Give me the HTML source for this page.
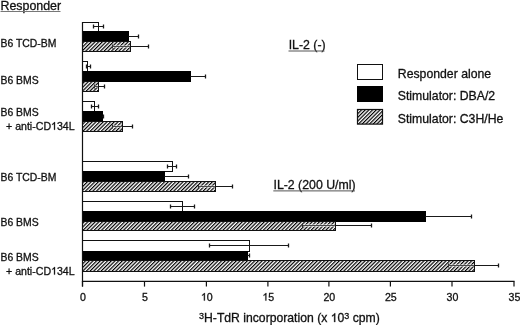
<!DOCTYPE html>
<html><head><meta charset="utf-8"><style>
html,body{margin:0;padding:0;background:#fff;width:520px;height:325px;overflow:hidden}
svg{display:block;will-change:transform}
text{font-family:"Liberation Sans",sans-serif;fill:#111;stroke:#111;stroke-width:0.3px}
.h{fill-opacity:0;stroke-opacity:0}
</style></head><body>
<svg width="520" height="325" viewBox="0 0 520 325">
<defs>
<pattern id="hatch" patternUnits="userSpaceOnUse" width="2.6" height="4" patternTransform="rotate(45)">
<rect width="2.6" height="4" fill="#fff"/>
<rect x="0" y="0" width="1.2" height="4" fill="#000"/>
</pattern>
</defs>
<rect x="82.5" y="22.50" width="16.00" height="9.00" fill="#fff" stroke="#111" stroke-width="1"/>
<rect x="82.5" y="31.50" width="46.00" height="10.00" fill="#000" stroke="#000" stroke-width="1"/>
<rect x="82.5" y="41.50" width="48.00" height="10.00" fill="url(#hatch)" stroke="#111" stroke-width="1"/>
<line x1="98.50" y1="26.50" x2="103.50" y2="26.50" stroke="#1a1a1a" stroke-width="1"/>
<line x1="103.50" y1="24.50" x2="103.50" y2="28.50" stroke="#1a1a1a" stroke-width="1.3"/>
<line x1="93.50" y1="26.50" x2="98.50" y2="26.50" stroke="#1a1a1a" stroke-width="1"/>
<line x1="93.50" y1="24.50" x2="93.50" y2="28.50" stroke="#1a1a1a" stroke-width="1.3"/>
<line x1="128.50" y1="36.50" x2="138.50" y2="36.50" stroke="#1a1a1a" stroke-width="1"/>
<line x1="138.50" y1="34.50" x2="138.50" y2="38.50" stroke="#1a1a1a" stroke-width="1.3"/>
<line x1="130.50" y1="46.50" x2="148.50" y2="46.50" stroke="#1a1a1a" stroke-width="1"/>
<line x1="148.50" y1="44.50" x2="148.50" y2="48.50" stroke="#1a1a1a" stroke-width="1.3"/>
<line x1="112.00" y1="46.50" x2="129.90" y2="46.50" stroke="#fff" stroke-width="1.8"/>
<line x1="112.50" y1="46.50" x2="129.90" y2="46.50" stroke="#333" stroke-width="0.9"/>
<line x1="112.50" y1="44.50" x2="112.50" y2="48.50" stroke="#333" stroke-width="1"/>
<rect x="82.5" y="61.50" width="5.00" height="10.00" fill="#fff" stroke="#111" stroke-width="1"/>
<rect x="82.5" y="71.50" width="108.00" height="10.00" fill="#000" stroke="#000" stroke-width="1"/>
<rect x="82.5" y="81.50" width="16.00" height="10.00" fill="url(#hatch)" stroke="#111" stroke-width="1"/>
<line x1="87.50" y1="66.50" x2="90.50" y2="66.50" stroke="#1a1a1a" stroke-width="1"/>
<line x1="90.50" y1="64.50" x2="90.50" y2="68.50" stroke="#1a1a1a" stroke-width="1.3"/>
<line x1="86.50" y1="66.50" x2="87.50" y2="66.50" stroke="#1a1a1a" stroke-width="1"/>
<line x1="86.50" y1="64.50" x2="86.50" y2="68.50" stroke="#1a1a1a" stroke-width="1.3"/>
<line x1="190.50" y1="76.50" x2="205.50" y2="76.50" stroke="#1a1a1a" stroke-width="1"/>
<line x1="205.50" y1="74.50" x2="205.50" y2="78.50" stroke="#1a1a1a" stroke-width="1.3"/>
<line x1="98.50" y1="86.50" x2="104.50" y2="86.50" stroke="#1a1a1a" stroke-width="1"/>
<line x1="104.50" y1="84.50" x2="104.50" y2="88.50" stroke="#1a1a1a" stroke-width="1.3"/>
<line x1="94.00" y1="86.50" x2="97.90" y2="86.50" stroke="#fff" stroke-width="1.8"/>
<line x1="94.50" y1="86.50" x2="97.90" y2="86.50" stroke="#333" stroke-width="0.9"/>
<line x1="94.50" y1="84.50" x2="94.50" y2="88.50" stroke="#333" stroke-width="1"/>
<rect x="82.5" y="101.50" width="12.00" height="10.00" fill="#fff" stroke="#111" stroke-width="1"/>
<rect x="82.5" y="111.50" width="20.00" height="10.00" fill="#000" stroke="#000" stroke-width="1"/>
<rect x="82.5" y="121.50" width="40.00" height="10.00" fill="url(#hatch)" stroke="#111" stroke-width="1"/>
<line x1="94.50" y1="106.50" x2="98.50" y2="106.50" stroke="#1a1a1a" stroke-width="1"/>
<line x1="98.50" y1="104.50" x2="98.50" y2="108.50" stroke="#1a1a1a" stroke-width="1.3"/>
<line x1="91.50" y1="106.50" x2="94.50" y2="106.50" stroke="#1a1a1a" stroke-width="1"/>
<line x1="91.50" y1="104.50" x2="91.50" y2="108.50" stroke="#1a1a1a" stroke-width="1.3"/>
<line x1="102.50" y1="116.50" x2="103.50" y2="116.50" stroke="#1a1a1a" stroke-width="1"/>
<line x1="103.50" y1="114.50" x2="103.50" y2="118.50" stroke="#1a1a1a" stroke-width="1.3"/>
<line x1="122.50" y1="126.50" x2="132.50" y2="126.50" stroke="#1a1a1a" stroke-width="1"/>
<line x1="132.50" y1="124.50" x2="132.50" y2="128.50" stroke="#1a1a1a" stroke-width="1.3"/>
<line x1="112.00" y1="126.50" x2="121.90" y2="126.50" stroke="#fff" stroke-width="1.8"/>
<line x1="112.50" y1="126.50" x2="121.90" y2="126.50" stroke="#333" stroke-width="0.9"/>
<line x1="112.50" y1="124.50" x2="112.50" y2="128.50" stroke="#333" stroke-width="1"/>
<rect x="82.5" y="161.50" width="90.00" height="10.00" fill="#fff" stroke="#111" stroke-width="1"/>
<rect x="82.5" y="171.50" width="82.00" height="10.00" fill="#000" stroke="#000" stroke-width="1"/>
<rect x="82.5" y="181.50" width="133.00" height="10.00" fill="url(#hatch)" stroke="#111" stroke-width="1"/>
<line x1="172.50" y1="166.50" x2="176.50" y2="166.50" stroke="#1a1a1a" stroke-width="1"/>
<line x1="176.50" y1="164.50" x2="176.50" y2="168.50" stroke="#1a1a1a" stroke-width="1.3"/>
<line x1="167.50" y1="166.50" x2="172.50" y2="166.50" stroke="#1a1a1a" stroke-width="1"/>
<line x1="167.50" y1="164.50" x2="167.50" y2="168.50" stroke="#1a1a1a" stroke-width="1.3"/>
<line x1="164.50" y1="176.50" x2="188.50" y2="176.50" stroke="#1a1a1a" stroke-width="1"/>
<line x1="188.50" y1="174.50" x2="188.50" y2="178.50" stroke="#1a1a1a" stroke-width="1.3"/>
<line x1="215.50" y1="186.50" x2="232.50" y2="186.50" stroke="#1a1a1a" stroke-width="1"/>
<line x1="232.50" y1="184.50" x2="232.50" y2="188.50" stroke="#1a1a1a" stroke-width="1.3"/>
<line x1="198.00" y1="186.50" x2="214.90" y2="186.50" stroke="#fff" stroke-width="1.8"/>
<line x1="198.50" y1="186.50" x2="214.90" y2="186.50" stroke="#333" stroke-width="0.9"/>
<line x1="198.50" y1="184.50" x2="198.50" y2="188.50" stroke="#333" stroke-width="1"/>
<rect x="82.5" y="201.50" width="100.00" height="10.00" fill="#fff" stroke="#111" stroke-width="1"/>
<rect x="82.5" y="211.50" width="343.00" height="10.00" fill="#000" stroke="#000" stroke-width="1"/>
<rect x="82.5" y="221.50" width="253.00" height="9.00" fill="url(#hatch)" stroke="#111" stroke-width="1"/>
<line x1="182.50" y1="206.50" x2="194.50" y2="206.50" stroke="#1a1a1a" stroke-width="1"/>
<line x1="194.50" y1="204.50" x2="194.50" y2="208.50" stroke="#1a1a1a" stroke-width="1.3"/>
<line x1="170.50" y1="206.50" x2="182.50" y2="206.50" stroke="#1a1a1a" stroke-width="1"/>
<line x1="170.50" y1="204.50" x2="170.50" y2="208.50" stroke="#1a1a1a" stroke-width="1.3"/>
<line x1="425.50" y1="216.50" x2="471.50" y2="216.50" stroke="#1a1a1a" stroke-width="1"/>
<line x1="471.50" y1="214.50" x2="471.50" y2="218.50" stroke="#1a1a1a" stroke-width="1.3"/>
<line x1="335.50" y1="225.50" x2="371.50" y2="225.50" stroke="#1a1a1a" stroke-width="1"/>
<line x1="371.50" y1="223.50" x2="371.50" y2="227.50" stroke="#1a1a1a" stroke-width="1.3"/>
<line x1="302.00" y1="225.50" x2="334.90" y2="225.50" stroke="#fff" stroke-width="1.8"/>
<line x1="302.50" y1="225.50" x2="334.90" y2="225.50" stroke="#333" stroke-width="0.9"/>
<line x1="302.50" y1="223.50" x2="302.50" y2="227.50" stroke="#333" stroke-width="1"/>
<rect x="82.5" y="240.50" width="167.00" height="11.00" fill="#fff" stroke="#111" stroke-width="1"/>
<rect x="82.5" y="251.50" width="165.00" height="9.00" fill="#000" stroke="#000" stroke-width="1"/>
<rect x="82.5" y="260.50" width="392.00" height="11.00" fill="url(#hatch)" stroke="#111" stroke-width="1"/>
<line x1="249.50" y1="245.50" x2="288.50" y2="245.50" stroke="#1a1a1a" stroke-width="1"/>
<line x1="288.50" y1="243.50" x2="288.50" y2="247.50" stroke="#1a1a1a" stroke-width="1.3"/>
<line x1="209.50" y1="245.50" x2="249.50" y2="245.50" stroke="#1a1a1a" stroke-width="1"/>
<line x1="209.50" y1="243.50" x2="209.50" y2="247.50" stroke="#1a1a1a" stroke-width="1.3"/>
<line x1="247.50" y1="255.50" x2="249.50" y2="255.50" stroke="#1a1a1a" stroke-width="1"/>
<line x1="249.50" y1="253.50" x2="249.50" y2="257.50" stroke="#1a1a1a" stroke-width="1.3"/>
<line x1="474.50" y1="265.50" x2="498.50" y2="265.50" stroke="#1a1a1a" stroke-width="1"/>
<line x1="498.50" y1="263.50" x2="498.50" y2="267.50" stroke="#1a1a1a" stroke-width="1.3"/>
<line x1="448.00" y1="265.50" x2="473.90" y2="265.50" stroke="#fff" stroke-width="1.8"/>
<line x1="448.50" y1="265.50" x2="473.90" y2="265.50" stroke="#333" stroke-width="0.9"/>
<line x1="448.50" y1="263.50" x2="448.50" y2="267.50" stroke="#333" stroke-width="1"/>
<line x1="82.5" y1="22" x2="82.5" y2="286.6" stroke="#111" stroke-width="1.2"/>
<line x1="81.9" y1="281.4" x2="514.6" y2="281.4" stroke="#111" stroke-width="1.2"/>
<line x1="82.50" y1="281.4" x2="82.50" y2="286.6" stroke="#111" stroke-width="1.2"/>
<line x1="144.50" y1="281.4" x2="144.50" y2="286.6" stroke="#111" stroke-width="1.2"/>
<line x1="206.40" y1="281.4" x2="206.40" y2="286.6" stroke="#111" stroke-width="1.2"/>
<line x1="267.90" y1="281.4" x2="267.90" y2="286.6" stroke="#111" stroke-width="1.2"/>
<line x1="328.90" y1="281.4" x2="328.90" y2="286.6" stroke="#111" stroke-width="1.2"/>
<line x1="390.40" y1="281.4" x2="390.40" y2="286.6" stroke="#111" stroke-width="1.2"/>
<line x1="452.00" y1="281.4" x2="452.00" y2="286.6" stroke="#111" stroke-width="1.2"/>
<line x1="514.00" y1="281.4" x2="514.00" y2="286.6" stroke="#111" stroke-width="1.2"/>
<text x="82.90" y="300.6" text-anchor="middle" font-size="10.6">0</text>
<text x="144.90" y="300.6" text-anchor="middle" font-size="10.6">5</text>
<text x="206.80" y="300.6" text-anchor="middle" font-size="10.6"><tspan class="h">1</tspan>0</text>
<text x="268.30" y="300.6" text-anchor="middle" font-size="10.6"><tspan class="h">1</tspan>5</text>
<text x="329.30" y="300.6" text-anchor="middle" font-size="10.6">20</text>
<text x="390.80" y="300.6" text-anchor="middle" font-size="10.6">25</text>
<text x="452.40" y="300.6" text-anchor="middle" font-size="10.6">30</text>
<text x="514.40" y="300.6" text-anchor="middle" font-size="10.6">35</text>

<text x="0.5" y="10" font-size="12.4">Responder</text>
<line x1="0.5" y1="11.5" x2="60.5" y2="11.5" stroke="#777" stroke-width="1"/>
<text x="0.5" y="46.6" font-size="10.4">B6 TCD-BM</text>
<text x="0.5" y="83.9" font-size="10.4">B6 BMS</text>
<text x="0.5" y="115.9" font-size="10.4">B6 BMS</text>
<text x="6" y="129.7" font-size="10.6">+ anti-CD<tspan class="h">1</tspan>34L</text>
<text x="0.5" y="180.7" font-size="10.4">B6 TCD-BM</text>
<text x="0.5" y="225.8" font-size="10.4">B6 BMS</text>
<text x="0.5" y="260.8" font-size="10.4">B6 BMS</text>
<text x="6" y="274.6" font-size="10.6">+ anti-CD<tspan class="h">1</tspan>34L</text>
<text x="288.7" y="48.9" font-size="12.3">IL-2 (-)</text>
<line x1="288.5" y1="51" x2="324.5" y2="51" stroke="#555" stroke-width="1"/>
<text x="273.5" y="188.9" font-size="12.3">IL-2 (200 U/ml)</text>
<line x1="273.3" y1="190.9" x2="355" y2="190.9" stroke="#555" stroke-width="1"/>
<text x="199" y="322" font-size="12.2"><tspan font-size="9" dy="-3">3</tspan><tspan dy="3">H-TdR incorporation (x <tspan class="h">1</tspan>0</tspan><tspan font-size="9" dy="-3">3</tspan><tspan dy="3"> cpm)</tspan></text>


<rect x="357.5" y="64.5" width="25" height="15" fill="#fff" stroke="#111" stroke-width="1"/>
<rect x="357.5" y="86.5" width="25" height="15" fill="#000" stroke="#000" stroke-width="1"/>
<rect x="357.5" y="109.5" width="25" height="14.6" fill="url(#hatch)" stroke="#111" stroke-width="1.2"/>
<text x="397.8" y="77.6" font-size="12.25">Responder alone</text>
<text x="397.8" y="100.3" font-size="12.25">Stimulator: DBA/2</text>
<text x="397.8" y="122.5" font-size="12.25">Stimulator: C3H/He</text>

<path d="M204.84,300.60 L203.91,300.60 L203.91,294.66 C203.69,294.88 203.39,295.09 203.03,295.31 C202.66,295.52 202.33,295.68 202.04,295.80 L202.04,294.91 C202.56,294.66 203.01,294.36 203.40,294.02 C203.79,293.67 204.06,293.33 204.22,293.01 L204.84,293.01 Z" fill="#111" stroke="#111" stroke-width="0.3"/>
<path d="M266.34,300.60 L265.41,300.60 L265.41,294.66 C265.19,294.88 264.89,295.09 264.53,295.31 C264.16,295.52 263.83,295.68 263.54,295.80 L263.54,294.91 C264.06,294.66 264.51,294.36 264.90,294.02 C265.29,293.67 265.56,293.33 265.72,293.01 L266.34,293.01 Z" fill="#111" stroke="#111" stroke-width="0.3"/>
<path d="M55.00,129.70 L54.06,129.70 L54.06,123.76 C53.84,123.98 53.55,124.19 53.18,124.41 C52.81,124.62 52.48,124.78 52.19,124.90 L52.19,124.01 C52.71,123.76 53.16,123.46 53.55,123.12 C53.94,122.77 54.21,122.43 54.37,122.11 L55.00,122.11 Z" fill="#111" stroke="#111" stroke-width="0.3"/>
<path d="M55.00,274.60 L54.06,274.60 L54.06,268.66 C53.84,268.88 53.55,269.09 53.18,269.31 C52.81,269.52 52.48,269.68 52.19,269.80 L52.19,268.91 C52.71,268.66 53.16,268.36 53.55,268.02 C53.94,267.67 54.21,267.33 54.37,267.01 L55.00,267.01 Z" fill="#111" stroke="#111" stroke-width="0.3"/>
<path d="M335.22,322.00 L334.14,322.00 L334.14,315.17 C333.89,315.41 333.55,315.66 333.13,315.91 C332.70,316.15 332.32,316.34 331.99,316.47 L331.99,315.45 C332.58,315.17 333.11,314.82 333.56,314.42 C334.00,314.02 334.32,313.64 334.50,313.27 L335.22,313.27 Z" fill="#111" stroke="#111" stroke-width="0.3"/>
</svg>
</body></html>
